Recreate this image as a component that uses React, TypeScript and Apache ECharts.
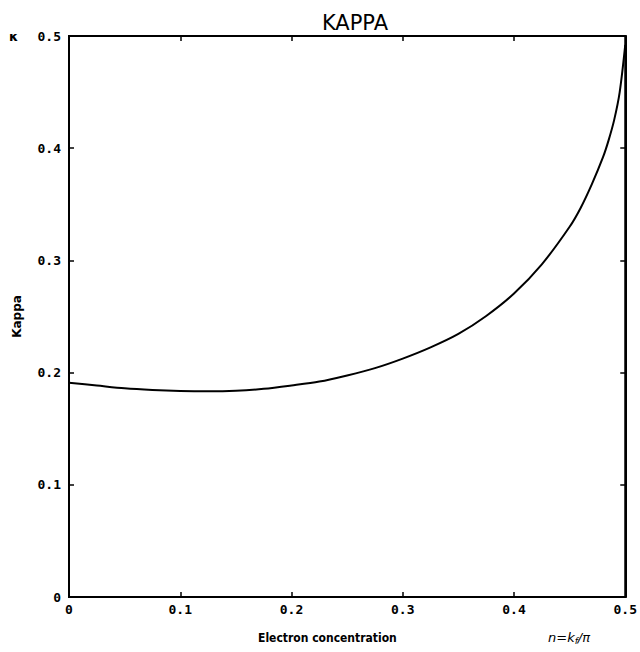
import React, { useEffect, useRef } from "react";
import * as echarts from "echarts";

const electronConc = [0, 0.025, 0.05, 0.075, 0.1, 0.125, 0.15, 0.175, 0.2, 0.225, 0.25, 0.275, 0.3, 0.325, 0.35, 0.375, 0.4, 0.425, 0.45, 0.46, 0.47, 0.48, 0.485, 0.49, 0.495, 0.5];
const kappaValues = [0.191, 0.1885, 0.186, 0.1845, 0.1836, 0.1833, 0.1838, 0.1855, 0.1885, 0.192, 0.1975, 0.204, 0.2125, 0.2225, 0.2345, 0.2505, 0.2705, 0.2965, 0.33, 0.347, 0.368, 0.392, 0.407, 0.425, 0.45, 0.492];
const xTicks = [0, 0.1, 0.2, 0.3, 0.4, 0.5];
const yTicks = [0, 0.1, 0.2, 0.3, 0.4, 0.5];

const labelFont = { fontFamily: "DejaVu Sans Mono", fontWeight: "bold" as const, fontSize: 13, color: "#000" };

export default function App() {
  const ref = useRef<HTMLDivElement>(null);
  useEffect(() => {
    if (!ref.current) return;
    const chart = echarts.init(ref.current, undefined, { renderer: "svg" });
    const fmt = (v: number) => {
      const t = [...xTicks, ...yTicks].find((k) => Math.abs(k - v) < 1e-9);
      return t === 0 ? "0" : String(Math.round(v * 10) / 10);
    };
    const axisLine = { show: true, onZero: false, lineStyle: { color: "#000", width: 2 } };
    const tick = { show: true, inside: true, length: 5, lineStyle: { color: "#000", width: 1.5 } };
    chart.setOption({
      animation: false,
      backgroundColor: "#fff",
      grid: { left: 69, right: 9, top: 36, bottom: 55, containLabel: false, show: true, borderColor: "#000", borderWidth: 2 },
      title: {
        text: "KAPPA",
        left: 350,
        textAlign: "center",
        top: 7,
        textStyle: { fontFamily: "DejaVu Sans", fontWeight: "normal", fontSize: 21, color: "#000" },
      },
      xAxis: [
        {
          type: "value", min: 0, max: 0.5, interval: 0.1, position: "bottom",
          axisLine, splitLine: { show: false }, axisTick: tick,
          axisLabel: { ...labelFont, margin: 6, formatter: fmt },
        },
        {
          type: "value", min: 0, max: 0.5, interval: 0.1, position: "top",
          axisLine, splitLine: { show: false }, axisTick: tick,
          axisLabel: { show: false },
        },
      ],
      yAxis: [
        {
          type: "value", min: 0, max: 0.5, interval: 0.1, position: "left",
          axisLine, splitLine: { show: false }, axisTick: tick,
          axisLabel: { ...labelFont, margin: 8, formatter: fmt },
          name: "Kappa", nameLocation: "middle", nameGap: 46, nameRotate: 90,
          nameTextStyle: { fontFamily: "DejaVu Sans", fontWeight: "bold", fontSize: 12, color: "#000" },
        },
        {
          type: "value", min: 0, max: 0.5, interval: 0.1, position: "right",
          axisLine, splitLine: { show: false }, axisTick: tick,
          axisLabel: { show: false },
        },
      ],
      graphic: [
        { type: "text", left: 9, top: 30, style: { text: "κ", font: "bold 13px DejaVu Sans", fill: "#000" } },
        { type: "text", left: 258, top: 632, style: { text: "Electron concentration", font: "bold 12px DejaVu Sans Condensed", fill: "#000" } },
        {
          type: "text", left: 548, top: 631,
          style: {
            text: "{i|n=k}{s|f}{i|/π}",
            rich: {
              i: { fontFamily: "DejaVu Sans", fontStyle: "italic", fontSize: 13, fill: "#000", fontWeight: "normal" },
              s: { fontFamily: "DejaVu Sans", fontStyle: "italic", fontSize: 9, fill: "#000", padding: [6, 0, 0, 0] },
            },
          },
        },
      ],
      series: [
        {
          type: "line",
          xAxisIndex: 0, yAxisIndex: 0,
          data: electronConc.map((x, i) => [x, kappaValues[i]]),
          smooth: 0.3,
          showSymbol: false,
          lineStyle: { color: "#000", width: 2 },
        },
        {
          type: "line",
          xAxisIndex: 1, yAxisIndex: 1,
          data: [],
          showSymbol: false,
          silent: true,
        },
      ],
    });
    return () => chart.dispose();
  }, []);
  return <div ref={ref} style={{ position: "fixed", left: 0, top: 0, width: 640, height: 652 }} />;
}
